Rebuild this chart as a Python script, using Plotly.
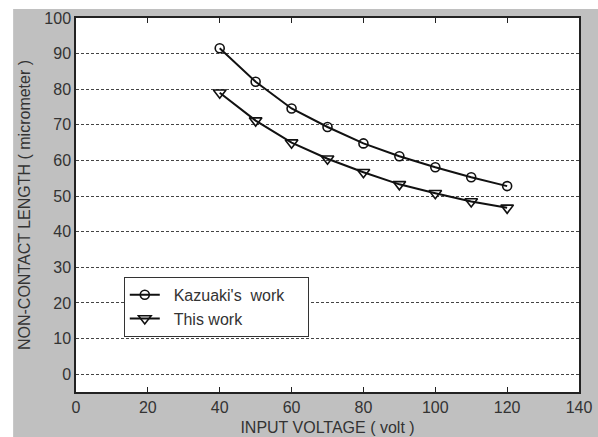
import plotly.graph_objects as go

voltage = [40, 50, 60, 70, 80, 90, 100, 110, 120]
kazuaki = [91.5, 82.1, 74.6, 69.4, 64.8, 61.2, 58.1, 55.3, 52.8]
this_work = [79.0, 71.2, 65.0, 60.5, 56.7, 53.3, 50.8, 48.5, 46.7]

x_ticks = [0, 20, 40, 60, 80, 100, 120, 140]
y_ticks = [0, 10, 20, 30, 40, 50, 60, 70, 80, 90, 100]

fig = go.Figure()
fig.add_trace(go.Scatter(
    x=voltage, y=kazuaki, mode="lines+markers",
    name="\u200b\u00a0\u00a0Kazuaki's\u00a0 work\u00a0\u00a0\u00a0\u00a0",
    line=dict(color="#111111", width=2),
    marker=dict(symbol="circle-open", size=9, color="#111111", line=dict(width=1.6)),
))
fig.add_trace(go.Scatter(
    x=voltage, y=this_work, mode="lines+markers", name="\u200b\u00a0\u00a0This work",
    line=dict(color="#111111", width=2),
    marker=dict(symbol="triangle-down-open", size=11, color="#111111", line=dict(width=1.6)),
))

font_family = "Liberation Sans, Arial, sans-serif"
fig.update_layout(
    width=598, height=437,
    margin=dict(l=76, r=19, t=18, b=45),
    paper_bgcolor="#c0c0c0",
    plot_bgcolor="white",
    font=dict(family=font_family, color="#333333", size=16),
    showlegend=True,
    legend=dict(
        x=0.095, y=0.308, xanchor="left", yanchor="top",
        bgcolor="white", bordercolor="#333333", borderwidth=1,
        font=dict(size=16, color="#333333"),
        tracegroupgap=0,
    ),
    xaxis=dict(
        range=[0, 140], tickvals=x_ticks, ticks="inside", ticklen=5,
        tickcolor="#222222", showline=True, linecolor="#222222", linewidth=1.5,
        mirror="ticks", showgrid=False, zeroline=False, automargin=False,
        tickfont=dict(size=16, color="#333333"),
        title=dict(text="INPUT VOLTAGE ( volt )", font=dict(size=16, color="#333333"), standoff=7),
    ),
    yaxis=dict(
        range=[-5, 100], tickvals=y_ticks, ticks="", showline=True,
        linecolor="#222222", linewidth=1.5, mirror=True,
        showgrid=True, gridcolor="#444444", gridwidth=1.2, griddash="3px,2px",
        zeroline=False, automargin=False,
        tickfont=dict(size=16, color="#333333"),
        title=dict(text="NON-CONTACT LENGTH ( micrometer )", font=dict(size=16, color="#333333"), standoff=10),
    ),
    shapes=[
        dict(type="rect", xref="paper", yref="paper", x0=-0.2, x1=1.1, y0=1.024, y1=1.1,
             fillcolor="white", line=dict(width=0), layer="above"),
        dict(type="rect", xref="paper", yref="paper", x0=-0.2, x1=-0.125, y0=-0.2, y1=1.1,
             fillcolor="white", line=dict(width=0), layer="above"),
    ],
)

fig.write_html("out.html")
